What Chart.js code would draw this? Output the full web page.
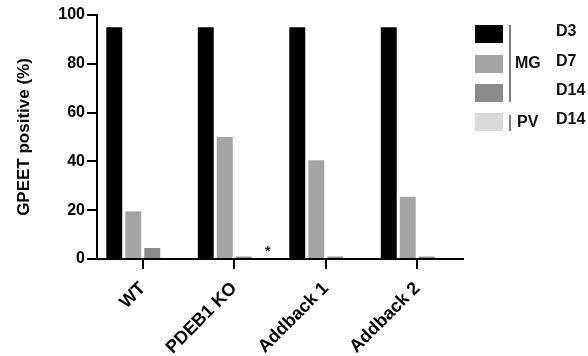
<!DOCTYPE html>
<html>
<head>
<meta charset="utf-8">
<script src="https://cdn.jsdelivr.net/npm/chart.js@4"></script>
<style>
html,body{margin:0;padding:0;background:#fff;}
#wrap{width:588px;height:356px;position:relative;}
</style>
</head>
<body>
<div id="wrap"><canvas id="c" width="588" height="356"></canvas></div>
<script>
const categories = ['WT', 'PDEB1 KO', 'Addback 1', 'Addback 2'];
const mgD3 = [95, 95, 95, 95];
const mgD7 = [19.5, 50, 40.5, 25.5];
const mgD14 = [4.5, 1, 1, 1];
const pvD14 = [0, 0, 0, 0];
const yTicks = [0, 20, 40, 60, 80, 100];
const seriesNames = ['D3', 'D7', 'D14', 'D14'];
const groupNames = ['MG', 'PV'];
const asteriskCategory = 'PDEB1 KO';

const colors = ['#000000', '#a4a4a6', '#8b8b8b', '#dadada'];
const FONT = '"Liberation Sans", Arial, sans-serif';

const legendPlugin = {
  id: 'customLegend',
  afterDraw(chart) {
    const ctx = chart.ctx;
    ctx.save();
    // asterisk
    const idx = categories.indexOf(asteriskCategory);
    const el = chart.getDatasetMeta(3).data[idx];
    ctx.fillStyle = '#222';
    ctx.font = 'bold 14px ' + FONT;
    ctx.textAlign = 'center';
    ctx.textBaseline = 'middle';
    ctx.fillText('*', el.x + 5, el.y - 7);

    // legend boxes
    const boxX = 475, boxW = 28, boxH = 18;
    const boxYs = [25, 55, 84, 113];
    chart.data.datasets.forEach((ds, i) => {
      ctx.fillStyle = ds.backgroundColor;
      ctx.fillRect(boxX, boxYs[i], boxW, boxH);
    });
    ctx.strokeStyle = '#555';
    ctx.lineWidth = 1.5;
    ctx.beginPath();
    ctx.moveTo(510, 25); ctx.lineTo(510, 102);
    ctx.moveTo(510, 115); ctx.lineTo(510, 131);
    ctx.stroke();
    ctx.fillStyle = '#111';
    ctx.font = 'bold 16px ' + FONT;
    ctx.textAlign = 'left';
    ctx.textBaseline = 'middle';
    ctx.fillText(groupNames[0], 515, 64);
    ctx.fillText(groupNames[1], 517, 123);
    seriesNames.forEach((n, i) => {
      ctx.fillText(n, 556, boxYs[i] + boxH / 2 - 2);
    });
    ctx.restore();
  }
};

new Chart(document.getElementById('c'), {
  type: 'bar',
  data: {
    labels: categories,
    datasets: [
      { label: 'MG D3', data: mgD3, backgroundColor: colors[0] },
      { label: 'MG D7', data: mgD7, backgroundColor: colors[1] },
      { label: 'MG D14', data: mgD14, backgroundColor: colors[2] },
      { label: 'PV D14', data: pvD14, backgroundColor: colors[3] }
    ]
  },
  options: {
    responsive: false,
    animation: false,
    devicePixelRatio: 1,
    layout: { padding: { top: 15, right: 125, left: 0, bottom: 0 } },
    datasets: { bar: { categoryPercentage: 0.83, barPercentage: 0.84 } },
    plugins: { legend: { display: false }, tooltip: { enabled: false } },
    scales: {
      x: {
        grid: { display: true, offset: false, drawOnChartArea: false, drawTicks: true, tickLength: 10, color: '#000', lineWidth: 2 },
        border: { display: true, color: '#000', width: 2 },
        ticks: { color: '#000', font: { family: FONT, size: 18, weight: 'bold' }, maxRotation: 45, minRotation: 45, padding: 9 },
        afterFit(s) { s.height = 97; }
      },
      y: {
        min: 0, max: 100,
        afterBuildTicks(s) { s.ticks = yTicks.map(v => ({ value: v })); },
        grid: { display: true, drawOnChartArea: false, drawTicks: true, tickLength: 10, color: '#000', lineWidth: 2 },
        border: { display: true, color: '#000', width: 2 },
        ticks: { color: '#000', font: { family: FONT, size: 16, weight: 'bold' }, padding: 2 },
        title: { display: true, text: 'GPEET positive (%)', color: '#000', font: { family: FONT, size: 17, weight: 'bold' }, padding: { top: 14, bottom: 0 } },
        afterFit(s) { s.width = 97; }
      }
    }
  },
  plugins: [legendPlugin]
});
</script>
</body>
</html>
